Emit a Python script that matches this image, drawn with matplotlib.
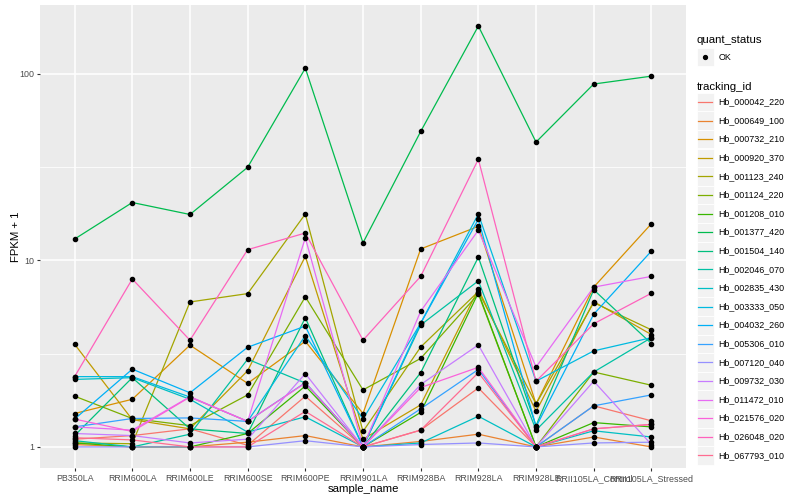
import numpy as np
import matplotlib
matplotlib.use("Agg")
import matplotlib.pyplot as plt
from matplotlib.lines import Line2D
from matplotlib.patches import Rectangle
from matplotlib.ticker import NullFormatter

plt.rcParams['font.family'] = ['Liberation Sans', 'DejaVu Sans']

samples = ["PB350LA", "RRIM600LA", "RRIM600LE", "RRIM600SE", "RRIM600PE", "RRIM901LA",
           "RRIM928BA", "RRIM928LA", "RRIM928LE", "RRII105LA_Control", "RRII105LA_Stressed"]

# FPKM + 1 per gene, in sample order
hb_000042_220 = [1.10, 1.15, 1.25, 1.02, 1.87, 1.00, 1.23, 2.07, 1.00, 1.66, 1.38]
hb_000649_100 = [1.03, 1.00, 1.00, 1.06, 1.15, 1.00, 1.07, 1.17, 1.00, 1.13, 1.00]
hb_000732_210 = [1.51, 1.80, 3.51, 2.19, 3.68, 1.51, 11.5, 15.2, 1.70, 7.18, 15.7]
hb_000920_370 = [3.55, 1.40, 1.25, 2.56, 10.5, 1.10, 1.68, 7.00, 1.55, 6.00, 4.00]
hb_001123_240 = [1.05, 1.04, 5.98, 6.63, 17.7, 1.21, 3.43, 6.80, 1.70, 5.93, 4.24]
hb_001124_220 = [1.87, 1.42, 1.30, 1.90, 6.37, 2.02, 2.98, 6.60, 1.00, 2.52, 2.14]
hb_001208_010 = [1.05, 1.00, 1.00, 1.18, 2.12, 1.00, 1.53, 6.70, 1.00, 1.35, 1.28]
hb_001377_420 = [13.0, 20.4, 17.6, 31.5, 107, 12.4, 49.0, 180, 43.0, 88.0, 97.0]
hb_001504_140 = [1.15, 2.35, 1.25, 1.18, 4.92, 1.00, 2.50, 10.4, 1.30, 6.95, 3.58]
hb_002046_070 = [1.08, 1.00, 1.17, 2.95, 2.20, 1.00, 4.50, 7.76, 1.23, 2.52, 3.85]
hb_002835_430 = [2.30, 2.35, 1.80, 1.20, 1.45, 1.00, 1.05, 1.46, 1.00, 1.22, 1.13]
hb_003333_050 = [2.38, 2.38, 1.85, 1.37, 3.95, 1.41, 4.60, 17.7, 2.25, 3.27, 3.85]
hb_004032_260 = [1.41, 2.61, 1.95, 3.42, 4.44, 1.00, 4.60, 16.6, 1.28, 5.14, 11.2]
hb_005306_010 = [1.28, 1.42, 1.43, 1.37, 2.21, 1.00, 1.60, 2.60, 1.00, 1.66, 1.90]
hb_007120_040 = [1.00, 1.00, 1.00, 1.00, 1.08, 1.00, 1.03, 1.05, 1.00, 1.05, 1.06]
hb_009732_030 = [1.18, 1.15, 1.05, 1.10, 2.47, 1.00, 2.16, 3.52, 1.00, 2.25, 1.03]
hb_011472_010 = [1.28, 1.23, 1.86, 1.37, 13.2, 1.00, 5.33, 14.5, 2.68, 7.18, 8.20]
hb_021576_020 = [1.41, 1.21, 1.85, 1.37, 2.20, 1.00, 2.08, 2.67, 1.00, 1.25, 1.32]
hb_026048_020 = [2.38, 7.94, 3.73, 11.4, 14.0, 3.73, 8.20, 34.8, 2.25, 4.57, 6.66]
hb_067793_010 = [1.12, 1.09, 1.00, 1.00, 1.55, 1.00, 1.23, 2.50, 1.00, 1.25, 1.32]

tracking_ids = ["Hb_000042_220", "Hb_000649_100", "Hb_000732_210", "Hb_000920_370",
                "Hb_001123_240", "Hb_001124_220", "Hb_001208_010", "Hb_001377_420",
                "Hb_001504_140", "Hb_002046_070", "Hb_002835_430", "Hb_003333_050",
                "Hb_004032_260", "Hb_005306_010", "Hb_007120_040", "Hb_009732_030",
                "Hb_011472_010", "Hb_021576_020", "Hb_026048_020", "Hb_067793_010"]
series = [hb_000042_220, hb_000649_100, hb_000732_210, hb_000920_370, hb_001123_240,
          hb_001124_220, hb_001208_010, hb_001377_420, hb_001504_140, hb_002046_070,
          hb_002835_430, hb_003333_050, hb_004032_260, hb_005306_010, hb_007120_040,
          hb_009732_030, hb_011472_010, hb_021576_020, hb_026048_020, hb_067793_010]

# ggplot default hue palette for 20 levels
colours = ["#F8766D", "#EA8331", "#D89000", "#C09B00", "#A3A500", "#7CAE00", "#39B600",
           "#00BB4E", "#00BF7D", "#00C1A3", "#00BFC4", "#00BAE0", "#00B0F6", "#35A2FF",
           "#9590FF", "#C77CFF", "#E76BF3", "#FA62DB", "#FF62BC", "#FF6C91"]

W, H = 800, 500
fig = plt.figure(figsize=(8, 5), dpi=100)
ax = fig.add_axes([40 / W, 32 / H, 646 / W, 463 / H])
ax.set_facecolor("#EBEBEB")
for s in ax.spines.values():
    s.set_visible(False)

x = np.arange(len(samples))
for vals, col in zip(series, colours):
    ax.plot(x, vals, color=col, lw=0.9, zorder=3)
for vals in series:
    ax.plot(x, vals, ls="none", marker="o", ms=3, color="black", zorder=4)

ax.set_yscale("log")
ax.set_ylim(10 ** -0.113, 10 ** 2.368)
ax.set_xlim(-0.6, len(samples) - 0.4)
ax.set_yticks([1, 10, 100], labels=["1", "10", "100"])
ax.set_yticks([10 ** 0.5, 10 ** 1.5], minor=True)
ax.yaxis.set_minor_formatter(NullFormatter())
ax.set_xticks(x, labels=samples)
ax.tick_params(which="major", length=2.2, width=0.8, color="#333333",
               labelsize=6.4, labelcolor="#4D4D4D", pad=2)
ax.tick_params(which="minor", length=0)
ax.grid(which="major", color="white", lw=1.1, zorder=0)
ax.grid(which="minor", axis="y", color="white", lw=0.55, zorder=0)
ax.set_axisbelow(True)
ax.set_xlabel("sample_name", fontsize=8.2, labelpad=1)
ax.set_ylabel("FPKM + 1", fontsize=8.2, labelpad=-1)


def fx(px):
    return px / W


def fy(py):
    return 1 - py / H


# legends drawn by hand, ggplot style
lx = 696.5
fig.text(fx(lx), fy(40), "quant_status", fontsize=8.2, va="center", ha="left")
fig.add_artist(Rectangle((fx(lx), fy(66)), 17 / W, 18 / H, transform=fig.transFigure,
                         facecolor="#F2F2F2", edgecolor="white", lw=0.6))
fig.add_artist(Line2D([fx(lx + 8.5)], [fy(57)], transform=fig.transFigure,
                      marker="o", ms=2.8, color="black", ls="none"))
fig.text(fx(lx + 22), fy(57), "OK", fontsize=6.4, va="center", ha="left")

fig.text(fx(lx), fy(87), "tracking_id", fontsize=8.2, va="center", ha="left")
step = 18.6
for i, (name, col) in enumerate(zip(tracking_ids, colours)):
    cy = 102 + i * step
    fig.add_artist(Rectangle((fx(lx), fy(cy + step / 2)), 17 / W, step / H,
                             transform=fig.transFigure, facecolor="#F2F2F2",
                             edgecolor="white", lw=0.6))
    fig.add_artist(Line2D([fx(lx + 1.8), fx(lx + 15.2)], [fy(cy), fy(cy)],
                          transform=fig.transFigure, color=col, lw=0.9))
    fig.text(fx(lx + 22), fy(cy), name, fontsize=6.4, va="center", ha="left")

fig.savefig("out.png", dpi=100)
